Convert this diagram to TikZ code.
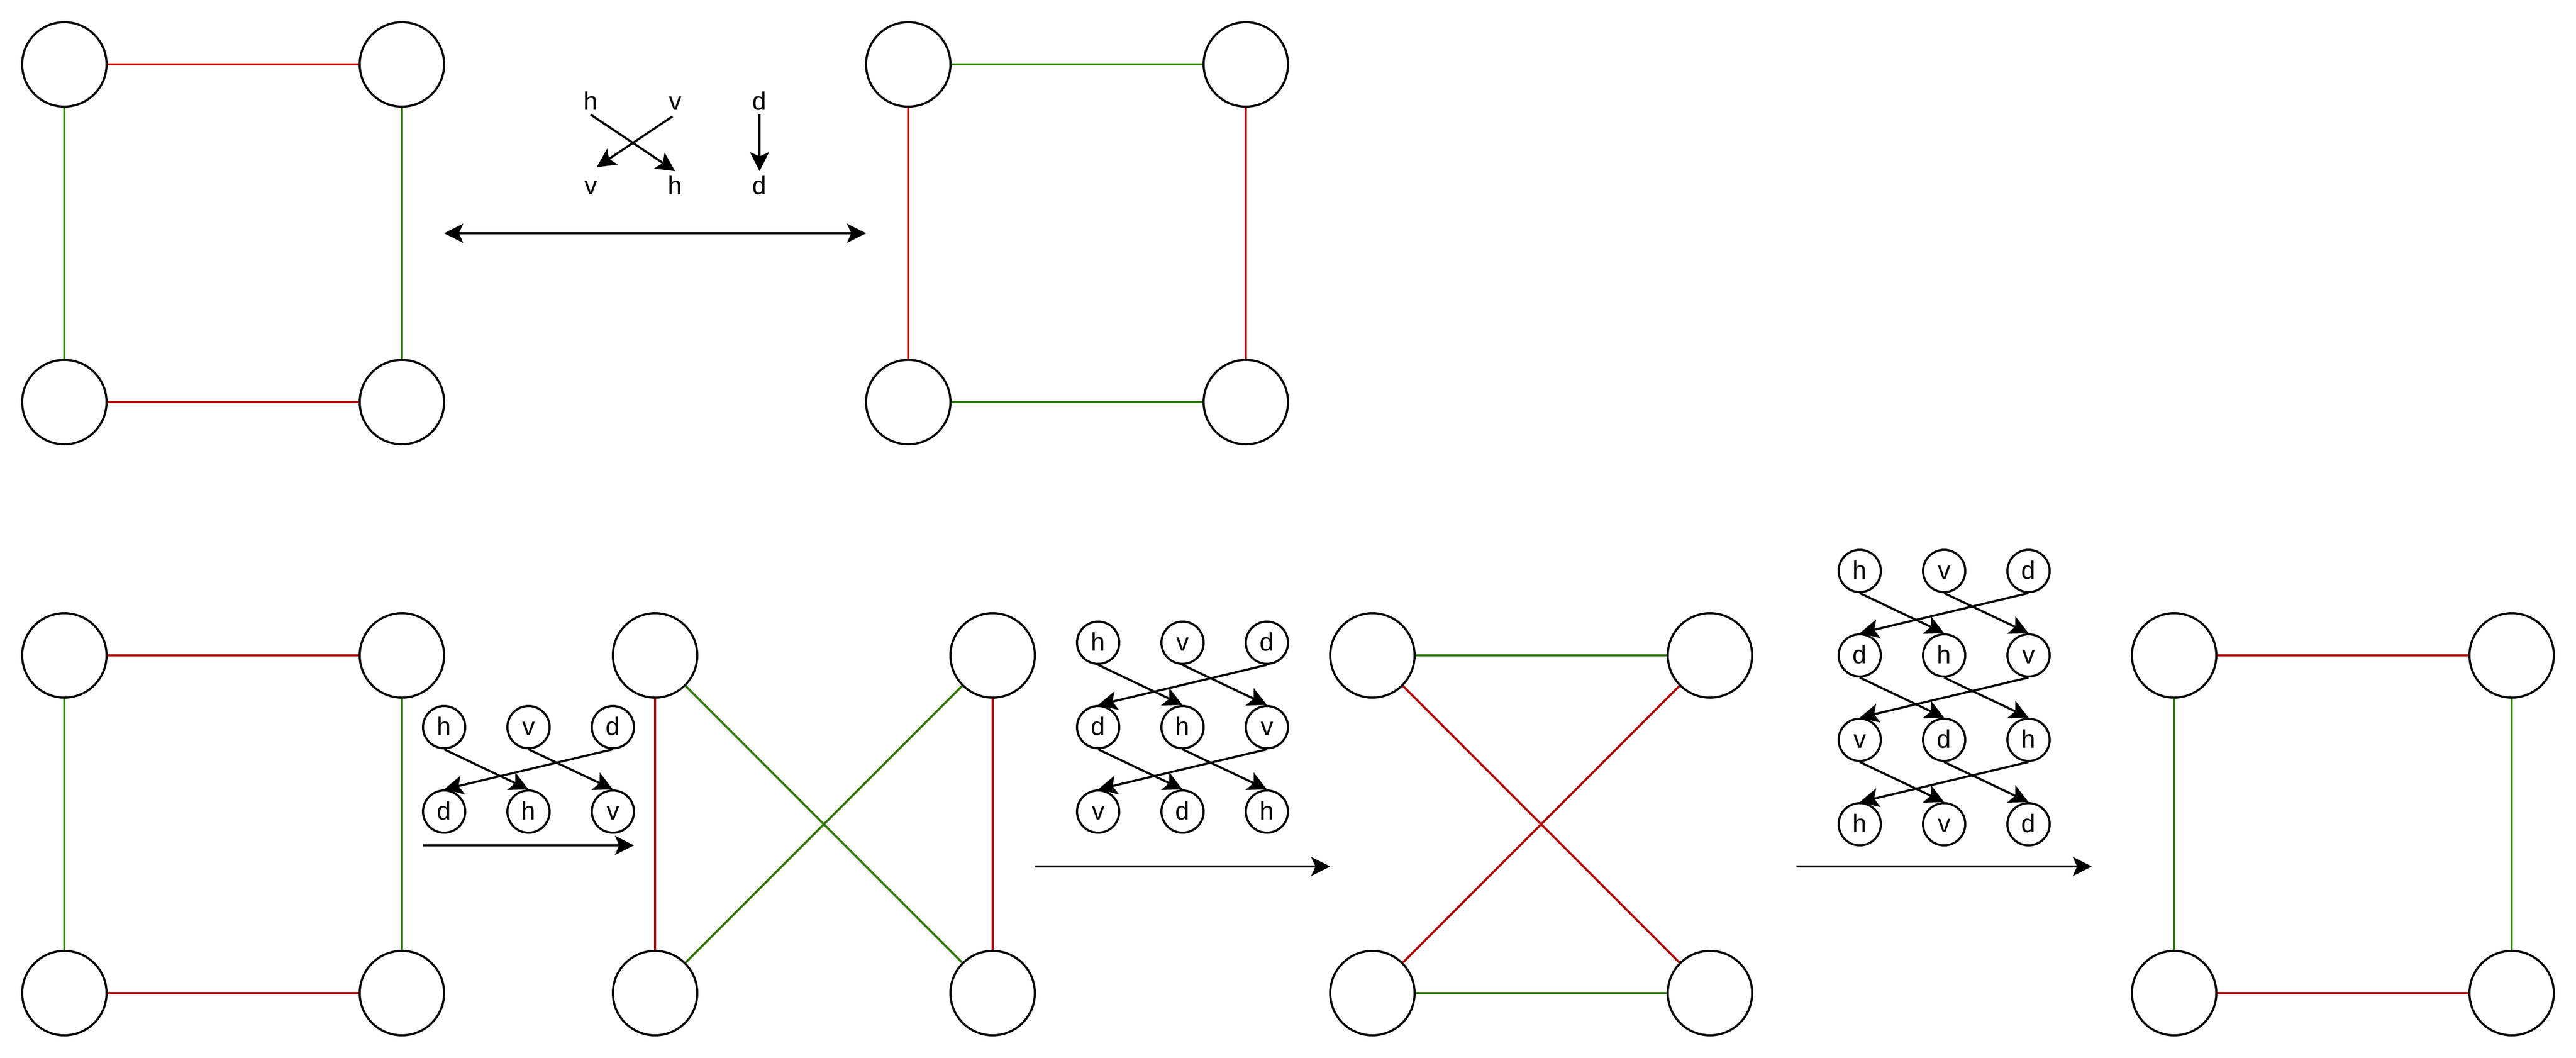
\documentclass[tikz,border=0pt]{standalone}
\usepackage{fontspec}
\setmainfont{Liberation Sans}
\usetikzlibrary{arrows.meta}
\definecolor{myred}{HTML}{B20000}
\definecolor{mygreen}{HTML}{2D7600}
\begin{document}
\begin{tikzpicture}[x=1pt,y=-1pt,
  big/.style={circle,draw,line width=1pt,minimum size=40pt,inner sep=0pt},
  small/.style={circle,draw,line width=1pt,minimum size=20pt,inner sep=0pt,
    font=\fontsize{12pt}{14pt}\selectfont,text height=8.6pt,text depth=1pt},
  lbl/.style={inner xsep=0pt,inner ysep=2pt,anchor=base,
    font=\fontsize{12pt}{14pt}\selectfont,text height=8.8pt,text depth=0pt},
  redge/.style={draw=myred,line width=1pt},
  gedge/.style={draw=mygreen,line width=1pt},
  arr/.style={draw,line width=1pt,-{Stealth[length=9pt,width=9pt,inset=2pt]}},
  darr/.style={draw,line width=1pt,{Stealth[length=9pt,width=9pt,inset=2pt]}-{Stealth[length=9pt,width=9pt,inset=2pt]}},
]
\useasboundingbox (0,0) rectangle (1221,501);

% ---------- top left square ----------
\node[big] (a1) at (30.5,30.5) {};
\node[big] (a2) at (190.5,30.5) {};
\node[big] (a3) at (30.5,190.5) {};
\node[big] (a4) at (190.5,190.5) {};
\draw[redge] (a1) -- (a2);
\draw[redge] (a3) -- (a4);
\draw[gedge] (a1) -- (a3);
\draw[gedge] (a2) -- (a4);

% ---------- top right square ----------
\node[big] (b1) at (430.5,30.5) {};
\node[big] (b2) at (590.5,30.5) {};
\node[big] (b3) at (430.5,190.5) {};
\node[big] (b4) at (590.5,190.5) {};
\draw[gedge] (b1) -- (b2);
\draw[gedge] (b3) -- (b4);
\draw[redge] (b1) -- (b3);
\draw[redge] (b2) -- (b4);

% double arrow
\coordinate (dl) at (210.5,110.5);
\coordinate (dr) at (410.5,110.5);
\draw[darr] (dl) -- (dr);

% labels top
\node[lbl] (th1) at (280,52.1) {h};
\node[lbl] (tv1) at (320,52.1) {v};
\node[lbl] (td1) at (360,52.1) {d};
\node[lbl] (tv2) at (280,92.1) {v};
\node[lbl] (th2) at (320,92.1) {h};
\node[lbl] (td2) at (360,92.1) {d};
\draw[arr] (th1.south) -- (th2.north);
\draw[arr,shorten <=1.5pt,shorten >=3.4pt] (tv1.south) -- (tv2.north);
\draw[arr] (td1.south) -- (td2.north);

% ---------- bottom square 1 ----------
\node[big] (c1) at (30.5,310.5) {};
\node[big] (c2) at (190.5,310.5) {};
\node[big] (c3) at (30.5,470.5) {};
\node[big] (c4) at (190.5,470.5) {};
\draw[redge] (c1) -- (c2);
\draw[redge] (c3) -- (c4);
\draw[gedge] (c1) -- (c3);
\draw[gedge] (c2) -- (c4);

% small diagram 1
\node[small] (p1h) at (210.5,344.5) {h};
\node[small] (p1v) at (250.5,344.5) {v};
\node[small] (p1d) at (290.5,344.5) {d};
\node[small] (p2d) at (210.5,384.5) {d};
\node[small] (p2h) at (250.5,384.5) {h};
\node[small] (p2v) at (290.5,384.5) {v};
\draw[arr] (p1h.south) -- (p2h.north);
\draw[arr] (p1v.south) -- (p2v.north);
\draw[arr] (p1d.south) -- (p2d.north);
\coordinate (pa1) at (200.5,400.5);
\coordinate (pa2) at (300.5,400.5);
\draw[arr] (pa1) -- (pa2);

% ---------- bottom square 2 ----------
\node[big] (d1) at (310.5,310.5) {};
\node[big] (d2) at (470.5,310.5) {};
\node[big] (d3) at (310.5,470.5) {};
\node[big] (d4) at (470.5,470.5) {};
\draw[redge] (d1) -- (d3);
\draw[redge] (d2) -- (d4);
\draw[gedge] (d1) -- (d4);
\draw[gedge] (d3) -- (d2);

% small diagram 2
\node[small] (q1h) at (520.5,304.5) {h};
\node[small] (q1v) at (560.5,304.5) {v};
\node[small] (q1d) at (600.5,304.5) {d};
\node[small] (q2d) at (520.5,344.5) {d};
\node[small] (q2h) at (560.5,344.5) {h};
\node[small] (q2v) at (600.5,344.5) {v};
\node[small] (q3v) at (520.5,384.5) {v};
\node[small] (q3d) at (560.5,384.5) {d};
\node[small] (q3h) at (600.5,384.5) {h};
\draw[arr] (q1h.south) -- (q2h.north);
\draw[arr] (q1v.south) -- (q2v.north);
\draw[arr] (q1d.south) -- (q2d.north);
\draw[arr] (q2d.south) -- (q3d.north);
\draw[arr] (q2h.south) -- (q3h.north);
\draw[arr] (q2v.south) -- (q3v.north);
\coordinate (qa1) at (490.5,410.5);
\coordinate (qa2) at (630.5,410.5);
\draw[arr] (qa1) -- (qa2);

% ---------- bottom square 3 ----------
\node[big] (e1) at (650.5,310.5) {};
\node[big] (e2) at (810.5,310.5) {};
\node[big] (e3) at (650.5,470.5) {};
\node[big] (e4) at (810.5,470.5) {};
\draw[gedge] (e1) -- (e2);
\draw[gedge] (e3) -- (e4);
\draw[redge] (e1) -- (e4);
\draw[redge] (e3) -- (e2);

% small diagram 3
\node[small] (r1h) at (881.5,270.5) {h};
\node[small] (r1v) at (921.5,270.5) {v};
\node[small] (r1d) at (961.5,270.5) {d};
\node[small] (r2d) at (881.5,310.5) {d};
\node[small] (r2h) at (921.5,310.5) {h};
\node[small] (r2v) at (961.5,310.5) {v};
\node[small] (r3v) at (881.5,350.5) {v};
\node[small] (r3d) at (921.5,350.5) {d};
\node[small] (r3h) at (961.5,350.5) {h};
\node[small] (r4h) at (881.5,390.5) {h};
\node[small] (r4v) at (921.5,390.5) {v};
\node[small] (r4d) at (961.5,390.5) {d};
\draw[arr] (r1h.south) -- (r2h.north);
\draw[arr] (r1v.south) -- (r2v.north);
\draw[arr] (r1d.south) -- (r2d.north);
\draw[arr] (r2d.south) -- (r3d.north);
\draw[arr] (r2h.south) -- (r3h.north);
\draw[arr] (r2v.south) -- (r3v.north);
\draw[arr] (r3v.south) -- (r4v.north);
\draw[arr] (r3d.south) -- (r4d.north);
\draw[arr] (r3h.south) -- (r4h.north);
\coordinate (ra1) at (851.5,410.5);
\coordinate (ra2) at (991.5,410.5);
\draw[arr] (ra1) -- (ra2);

% ---------- bottom square 4 ----------
\node[big] (f1) at (1030.5,310.5) {};
\node[big] (f2) at (1190.5,310.5) {};
\node[big] (f3) at (1030.5,470.5) {};
\node[big] (f4) at (1190.5,470.5) {};
\draw[redge] (f1) -- (f2);
\draw[redge] (f3) -- (f4);
\draw[gedge] (f1) -- (f3);
\draw[gedge] (f2) -- (f4);
\end{tikzpicture}
\end{document}
